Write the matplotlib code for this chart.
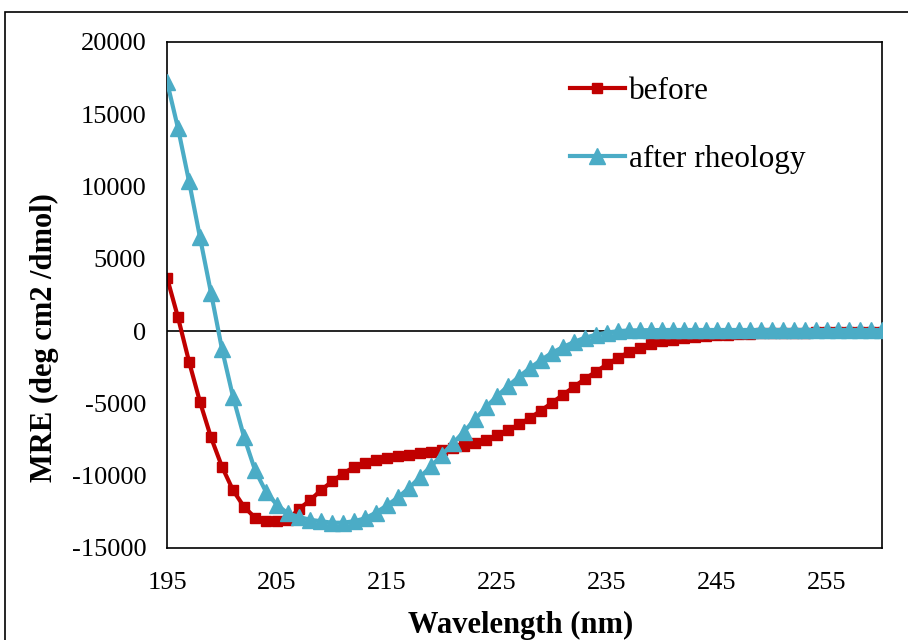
import numpy as np
import matplotlib.pyplot as plt
from matplotlib.patches import Rectangle

# longitudes de onda (nm)
wl = np.arange(195, 261)

# MRE antes
before = [3700, 950, -2100, -4900, -7350, -9380, -11000, -12150, -12900, -13100,
          -13150, -13050, -12300, -11700, -11000, -10400, -9850, -9400, -9100, -8900,
          -8750, -8650, -8550, -8450, -8350, -8250, -8100, -7950, -7750, -7500,
          -7200, -6850, -6450, -6000, -5500, -4950, -4400, -3850, -3300, -2800,
          -2300, -1850, -1450, -1150, -900, -700, -580, -480, -400, -340,
          -290, -250, -210, -180, -160, -140, -120, -110, -100, -90,
          -80, -70, -60, -50, -40, -30]

# MRE despues de reologia
after = [17250, 14040, 10370, 6480, 2650, -1250, -4540, -7310, -9610, -11110,
         -12030, -12610, -12850, -13050, -13150, -13250, -13250, -13150, -12950, -12550,
         -12050, -11500, -10850, -10100, -9350, -8550, -7750, -6950, -6100, -5250,
         -4500, -3800, -3150, -2550, -2000, -1500, -1100, -750, -450, -250,
         -100, 0, 50, 60, 70, 80, 80, 80, 80, 80,
         80, 80, 80, 80, 80, 80, 80, 80, 80, 80,
         80, 80, 80, 80, 80, 80]

xticks = [195, 205, 215, 225, 235, 245, 255]
yticks = [-15000, -10000, -5000, 0, 5000, 10000, 15000, 20000]

plt.rcParams['font.family'] = ['Liberation Serif', 'DejaVu Serif']
plt.rcParams['axes.unicode_minus'] = False

fig = plt.figure(figsize=(9.08, 6.4), dpi=100)
ax = fig.add_axes([167/908, 1-548/640, 715/908, 506/640])

# marco exterior
fig.patches.append(Rectangle((5/908, -0.1), 1.0, 1.1 - 12/640, transform=fig.transFigure,
                             fill=False, edgecolor='black', linewidth=1.2))

ax.axhline(0, color='black', linewidth=1.2, zorder=1)
ax.plot(wl, before, color='#C00000', linewidth=3, marker='s', markersize=6.5,
        markeredgewidth=1, label='before', zorder=2)
ax.plot(wl, after, color='#4BACC6', linewidth=3, marker='^', markersize=12,
        markeredgewidth=1, label='after rheology', zorder=3)

ax.set_xlim(195, 260)
ax.set_ylim(-15000, 20000)
ax.set_xticks(xticks)
ax.set_yticks(yticks)
ax.tick_params(length=0, labelsize=19)
ax.tick_params(axis='y', pad=15)
ax.tick_params(axis='x', pad=17)
for s in ax.spines.values():
    s.set_linewidth(1.2)

ax.set_xlabel('Wavelength (nm)', fontsize=22, fontweight='bold')
ax.set_ylabel('MRE (deg cm2 /dmol)', fontsize=22, fontweight='bold')
ax.xaxis.set_label_coords(0.495, -0.125)
ax.yaxis.set_label_coords(-0.151, 0.415)

ax.legend(loc='upper left', bbox_to_anchor=(0.5636, 0.93), frameon=False,
          fontsize=22.5, handlelength=1.75, handletextpad=0.15, labelspacing=1.22,
          borderpad=0, borderaxespad=0)

fig.savefig('out.png', dpi=100)
